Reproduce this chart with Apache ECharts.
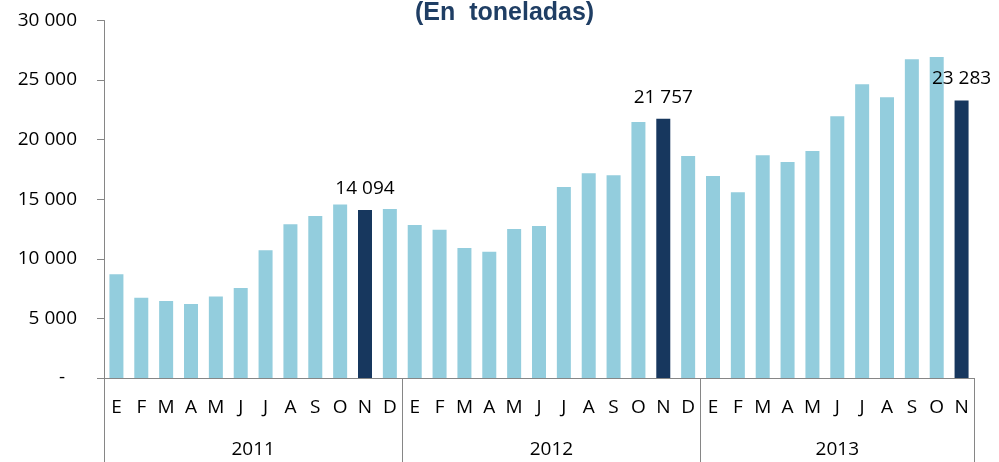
<!DOCTYPE html>
<html>
<head>
<meta charset="utf-8">
<script src="https://cdn.jsdelivr.net/npm/echarts@6/dist/echarts.min.js"></script>
<style>
  html, body { margin: 0; padding: 0; background: #fff; }
  #main { width: 999px; height: 462px; }
</style>
</head>
<body>
<div id="main"></div>
<script>
// monthly tonnage, 2011-01 .. 2013-11
var months = ['E','F','M','A','M','J','J','A','S','O','N','D',
              'E','F','M','A','M','J','J','A','S','O','N','D',
              'E','F','M','A','M','J','J','A','S','O','N'];
var values = [8700, 6740, 6460, 6210, 6830, 7550, 10720, 12900, 13600, 14550, 14094, 14180,
              12840, 12450, 10910, 10600, 12500, 12760, 16030, 17180, 17010, 21480, 21757, 18630,
              16950, 15580, 18690, 18130, 19050, 21960, 24650, 23550, 26740, 26940, 23283];
var highlighted = [10, 22, 34];          // noviembre de cada año
var years = ['2011', '2012', '2013'];
var yearBounds = [0, 12, 24, 35];         // limites de cada año en meses
var yTicks = [0, 5000, 10000, 15000, 20000, 25000, 30000];

var light = '#93CDDD', dark = '#17375E', grey = '#868686';
var font = 'Open Sans';

function fmt(v) {
    return String(v).replace(/\B(?=(\d{3})+(?!\d))/g, ' ');
}

var barData = values.map(function (v, i) {
    var hi = highlighted.indexOf(i) >= 0;
    return {
        value: v,
        itemStyle: { color: hi ? dark : light },
        label: { show: hi }
    };
});

var yearCenters = [];
for (var i = 0; i < years.length; i++) {
    yearCenters.push((yearBounds[i] + yearBounds[i + 1]) / 2);
}

var myChart = echarts.init(document.getElementById('main'));
var option = {
    animation: false,
    title: {
        text: '(En  toneladas)',
        left: 410,
        top: -4,
        textStyle: { fontFamily: 'Liberation Sans', fontWeight: 'bold', fontSize: 25, color: '#1F3E64' }
    },
    grid: { left: 104, right: 25, top: 20.5, bottom: 84 },
    xAxis: [
        {
            type: 'category',
            data: months,
            axisLine: { lineStyle: { color: grey, width: 1 } },
            axisTick: { length: 44, lineStyle: { color: grey } },
            axisLabel: { interval: 0, margin: 20, fontFamily: font, fontSize: 19, color: '#000' }
        },
        {
            type: 'value',
            position: 'bottom',
            min: 0,
            max: 35,
            splitLine: { show: false },
            axisLine: { show: false },
            axisTick: { show: true, length: 90, customValues: yearBounds, lineStyle: { color: grey } },
            axisLabel: {
                margin: 62,
                customValues: yearCenters,
                fontFamily: font, fontSize: 19, color: '#000',
                formatter: function (v) { return years[yearCenters.indexOf(v)] || ''; }
            }
        }
    ],
    yAxis: {
        type: 'value',
        min: yTicks[0],
        max: yTicks[yTicks.length - 1],
        interval: 5000,
        splitLine: { show: false },
        axisLine: { show: true, lineStyle: { color: grey } },
        axisTick: { show: true, length: 7, lineStyle: { color: grey } },
        axisLabel: {
            margin: 27,
            fontFamily: font, fontSize: 19, color: '#000',
            formatter: function (v) { return v === 0 ? '{d|-}' : fmt(v); },
            rich: { d: { fontFamily: font, fontSize: 19, color: '#000', padding: [0, 12, 0, 0] } }
        }
    },
    series: [
        {
            type: 'bar',
            xAxisIndex: 0,
            barWidth: 14,
            data: barData,
            label: {
                position: 'top',
                distance: 12,
                fontFamily: font, fontSize: 19, color: '#000',
                formatter: function (p) { return fmt(p.value); }
            }
        }
    ]
};
myChart.setOption(option);
</script>
</body>
</html>
